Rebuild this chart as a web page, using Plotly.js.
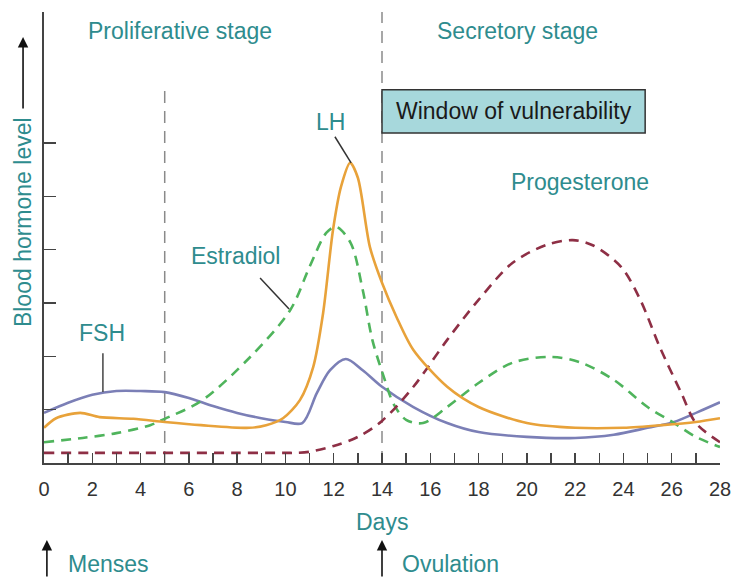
<!DOCTYPE html>
<html>
<head>
<meta charset="utf-8">
<script src="https://cdn.plot.ly/plotly-3.0.1.min.js"></script>
<style>
  html, body { margin: 0; padding: 0; background: #fff; }
  #chart { width: 735px; height: 578px; }
</style>
</head>
<body>
<div id="chart"></div>
<script>
// ---- Data (y in arbitrary hormone units) ----
const fshDays = [0, 1, 2, 3, 4, 5, 6, 7, 8, 9, 10, 10.7, 11.3, 11.85, 12.5, 13.2, 14, 15.3, 16.7, 18, 20, 22, 23.6, 25, 26.1, 27.1, 28];
const fshLevel = [0.94, 1.13, 1.28, 1.35, 1.35, 1.33, 1.22, 1.07, 0.94, 0.84, 0.77, 0.75, 1.31, 1.74, 1.95, 1.74, 1.43, 1.05, 0.75, 0.58, 0.49, 0.47, 0.53, 0.66, 0.77, 0.96, 1.14];

const lhDays = [0, 0.5, 1.5, 2.3, 3.7, 5, 6.5, 8.5, 9.2, 9.9, 10.6, 11.15, 11.56, 11.97, 12.3, 12.68, 13.0, 13.5, 14.0, 14.6, 15.3, 16.7, 18, 20, 22, 24, 25.6, 27, 28];
const lhLevel = [0.66, 0.84, 0.94, 0.86, 0.83, 0.77, 0.71, 0.66, 0.71, 0.84, 1.18, 1.80, 2.81, 4.37, 5.18, 5.63, 5.35, 4.05, 3.38, 2.74, 2.12, 1.43, 1.05, 0.75, 0.66, 0.66, 0.71, 0.77, 0.84];

const estDays = [0, 1.6, 3, 4.4, 4.9, 6.5, 8.5, 10.2, 11.0, 11.7, 12.1, 12.7, 13.2, 13.6, 14.05, 14.5, 15.0, 15.7, 16.7, 18, 19.4, 21, 22.2, 23.6, 25, 26.1, 27, 28];
const estLevel = [0.39, 0.47, 0.56, 0.71, 0.81, 1.16, 1.97, 2.87, 3.68, 4.32, 4.43, 4.13, 3.25, 2.31, 1.65, 1.09, 0.81, 0.75, 1.05, 1.50, 1.88, 1.99, 1.89, 1.56, 1.05, 0.75, 0.49, 0.30];

const progDays = [0, 2, 4, 6, 8, 10, 10.5, 11, 12, 13, 14, 15.3, 16.7, 18, 19.4, 20.8, 21.9, 22.7, 23.9, 24.7, 25.5, 26.4, 27, 28];
const progLevel = [0.19, 0.19, 0.19, 0.19, 0.19, 0.19, 0.19, 0.21, 0.32, 0.49, 0.79, 1.43, 2.31, 3.06, 3.75, 4.09, 4.18, 4.09, 3.68, 3.06, 2.18, 1.31, 0.75, 0.39];

const xTickVals = [0, 2, 4, 6, 8, 10, 12, 14, 16, 18, 20, 22, 24, 26, 28];
const xTickText = ['0', '2', '4', '6', '8', '10', '12', '14', '16', '18', '20', '22', '24', '26', '28'];
const yTickVals = [1, 2, 3, 4, 5, 6];
const stageBoundaries = [5, 14];
const vulnerabilityWindow = [14, 24.9];

// ---- Styles ----
const TEAL = '#2e8c8e';
const FONT = 'Liberation Sans, Arial, sans-serif';
const LABEL_SIZE = 23;

const traces = [
  { x: fshDays, y: fshLevel, name: 'FSH', mode: 'lines',
    line: { color: '#7b7fb6', width: 2.6, shape: 'spline', smoothing: 0.9 } },
  { x: estDays, y: estLevel, name: 'Estradiol', mode: 'lines',
    line: { color: '#4fb45c', width: 2.6, shape: 'spline', smoothing: 0.9, dash: '10px,7px' } },
  { x: progDays, y: progLevel, name: 'Progesterone', mode: 'lines',
    line: { color: '#8e2f45', width: 2.6, shape: 'spline', smoothing: 0.9, dash: '10px,7px' } },
  { x: lhDays, y: lhLevel, name: 'LH', mode: 'lines',
    line: { color: '#e8a23a', width: 2.6, shape: 'spline', smoothing: 0.8 } }
];

const dashedGuide = { color: '#8a8a8a', width: 1.5, dash: '12px,8px' };
const shapes = [
  { type: 'line', xref: 'x', yref: 'y', x0: stageBoundaries[0], x1: stageBoundaries[0], y0: 0, y1: 7.09, line: dashedGuide, layer: 'below' },
  { type: 'line', xref: 'x', yref: 'y', x0: stageBoundaries[1], x1: stageBoundaries[1], y0: 0, y1: 8.46, line: dashedGuide, layer: 'below' },
  { type: 'rect', xref: 'x', yref: 'y', x0: vulnerabilityWindow[0], x1: vulnerabilityWindow[1], y0: 6.19, y1: 7.0,
    fillcolor: '#a7d8dc', line: { color: '#333', width: 1.5 } },
  // leader lines
  { type: 'line', xref: 'x', yref: 'y', x0: 12.05, y0: 6.12, x1: 12.72, y1: 5.63, line: { color: '#333', width: 1.5 } },
  { type: 'line', xref: 'x', yref: 'y', x0: 8.95, y0: 3.47, x1: 10.15, y1: 2.89, line: { color: '#333', width: 1.5 } },
  { type: 'line', xref: 'x', yref: 'y', x0: 2.44, y0: 2.06, x1: 2.44, y1: 1.33, line: { color: '#444', width: 1.5 } }
];

function label(text, x, y, extra) {
  return Object.assign({ text: text, x: x, y: y, xref: 'x', yref: 'y', showarrow: false,
    xanchor: 'center', yanchor: 'middle',
    font: { family: FONT, size: LABEL_SIZE, color: TEAL } }, extra || {});
}

const annotations = [
  label('Proliferative stage', 5.63, 8.1),
  label('Secretory stage', 19.63, 8.1),
  label('Window of vulnerability', 19.45, 6.6, { font: { family: FONT, size: LABEL_SIZE, color: '#1a1a1a' } }),
  label('LH', 11.85, 6.4),
  label('Progesterone', 22.2, 5.27),
  label('Estradiol', 7.95, 3.88),
  label('FSH', 2.4, 2.44),
  label('Days', 14, -0.131, { yref: 'paper' }),
  label('Menses', 0.95, -0.255, { yref: 'paper', xanchor: 'left', yanchor: 'bottom', borderpad: 0 }),
  label('Ovulation', 14.79, -0.255, { yref: 'paper', xanchor: 'left', yanchor: 'bottom', borderpad: 0 }),
  // y-axis title (rotated) and its arrow
  { text: 'Blood hormone level', xref: 'paper', yref: 'y', x: -0.031, y: 4.52, textangle: -90, showarrow: false,
    xanchor: 'center', yanchor: 'middle',
    font: { family: FONT, size: LABEL_SIZE, color: TEAL } },
  { text: '', xref: 'paper', yref: 'y', x: -0.031, y: 7.99, showarrow: true, ax: 0, ay: 73,
    arrowhead: 2, arrowsize: 1.3, arrowwidth: 1.6, arrowcolor: '#111' },
  // Menses / Ovulation arrows
  { text: '', xref: 'x', yref: 'paper', x: 0.12, y: -0.171, showarrow: true, ax: 0, ay: 38,
    arrowhead: 2, arrowsize: 1.3, arrowwidth: 1.6, arrowcolor: '#111' },
  { text: '', xref: 'x', yref: 'paper', x: 14, y: -0.171, showarrow: true, ax: 0, ay: 38,
    arrowhead: 2, arrowsize: 1.3, arrowwidth: 1.6, arrowcolor: '#111' }
];

const layout = {
  width: 735, height: 578,
  margin: { l: 44, r: 15, t: 12, b: 115 },
  paper_bgcolor: '#fff', plot_bgcolor: '#fff',
  showlegend: false,
  xaxis: {
    range: [0, 28], showgrid: false, zeroline: false,
    showline: true, linecolor: '#444', linewidth: 2,
    tickmode: 'array', tickvals: xTickVals, ticktext: xTickText,
    ticks: 'inside', ticklen: 10, tickwidth: 1.3, tickcolor: '#444',
    minor: { dtick: 1, ticks: 'inside', ticklen: 10, tickwidth: 1.3, tickcolor: '#444' },
    tickfont: { family: FONT, size: 20, color: '#333' },
    ticklabelstandoff: 7,
    fixedrange: true
  },
  yaxis: {
    range: [0, 8.46], showgrid: false, zeroline: false,
    showline: true, linecolor: '#444', linewidth: 2,
    tickmode: 'array', tickvals: yTickVals, showticklabels: false,
    ticks: 'inside', ticklen: 12, tickwidth: 1.3, tickcolor: '#444',
    fixedrange: true
  },
  shapes: shapes,
  annotations: annotations
};

Plotly.newPlot('chart', traces, layout, { staticPlot: true, displayModeBar: false });
</script>
</body>
</html>
